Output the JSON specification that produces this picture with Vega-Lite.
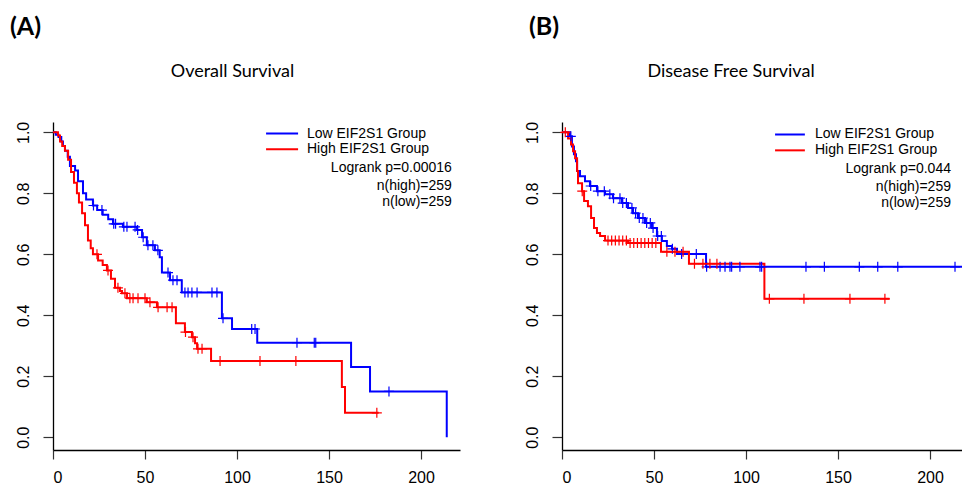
{
  "$schema": "https://vega.github.io/schema/vega-lite/v6.json",
  "background": "white",
  "padding": {"left": 10, "top": 15, "right": 0, "bottom": 0},
  "spacing": 64,
  "config": {
    "view": {"stroke": null},
    "font": "Liberation Sans",
    "axis": {"domainColor": "#000000", "domainWidth": 1.3, "tickColor": "#333333", "tickWidth": 1.2, "labelFont": "Liberation Sans", "labelFontSize": 16, "labelColor": "#000000", "grid": false, "title": null}
  },
  "datasets": {
    "one": [{}],
    "curves": [
      {"panel": "A", "group": "Low", "t": 0, "s": 1.0},
      {"panel": "A", "group": "Low", "t": 1.5, "s": 0.992},
      {"panel": "A", "group": "Low", "t": 3, "s": 0.985},
      {"panel": "A", "group": "Low", "t": 4.5, "s": 0.97},
      {"panel": "A", "group": "Low", "t": 5.4, "s": 0.955},
      {"panel": "A", "group": "Low", "t": 6.5, "s": 0.94},
      {"panel": "A", "group": "Low", "t": 8, "s": 0.92},
      {"panel": "A", "group": "Low", "t": 9.2, "s": 0.89},
      {"panel": "A", "group": "Low", "t": 12, "s": 0.875},
      {"panel": "A", "group": "Low", "t": 13.6, "s": 0.84},
      {"panel": "A", "group": "Low", "t": 16.3, "s": 0.8},
      {"panel": "A", "group": "Low", "t": 18, "s": 0.78},
      {"panel": "A", "group": "Low", "t": 21.7, "s": 0.76},
      {"panel": "A", "group": "Low", "t": 24, "s": 0.745},
      {"panel": "A", "group": "Low", "t": 27, "s": 0.73},
      {"panel": "A", "group": "Low", "t": 30, "s": 0.715},
      {"panel": "A", "group": "Low", "t": 32.6, "s": 0.7},
      {"panel": "A", "group": "Low", "t": 38, "s": 0.69},
      {"panel": "A", "group": "Low", "t": 45.7, "s": 0.68},
      {"panel": "A", "group": "Low", "t": 48.4, "s": 0.656},
      {"panel": "A", "group": "Low", "t": 51, "s": 0.63},
      {"panel": "A", "group": "Low", "t": 55.4, "s": 0.613},
      {"panel": "A", "group": "Low", "t": 58, "s": 0.59},
      {"panel": "A", "group": "Low", "t": 59.2, "s": 0.54},
      {"panel": "A", "group": "Low", "t": 63.6, "s": 0.515},
      {"panel": "A", "group": "Low", "t": 70, "s": 0.475},
      {"panel": "A", "group": "Low", "t": 91.8, "s": 0.39},
      {"panel": "A", "group": "Low", "t": 97.3, "s": 0.355},
      {"panel": "A", "group": "Low", "t": 111, "s": 0.31},
      {"panel": "A", "group": "Low", "t": 162, "s": 0.23},
      {"panel": "A", "group": "Low", "t": 172.3, "s": 0.15},
      {"panel": "A", "group": "Low", "t": 214, "s": 0.0},
      {"panel": "A", "group": "High", "t": 0, "s": 1.0},
      {"panel": "A", "group": "High", "t": 2.7, "s": 0.99},
      {"panel": "A", "group": "High", "t": 3.8, "s": 0.97},
      {"panel": "A", "group": "High", "t": 5, "s": 0.955},
      {"panel": "A", "group": "High", "t": 6.5, "s": 0.94},
      {"panel": "A", "group": "High", "t": 8.2, "s": 0.91},
      {"panel": "A", "group": "High", "t": 9.8, "s": 0.87},
      {"panel": "A", "group": "High", "t": 11.4, "s": 0.835},
      {"panel": "A", "group": "High", "t": 13, "s": 0.8},
      {"panel": "A", "group": "High", "t": 14.1, "s": 0.77},
      {"panel": "A", "group": "High", "t": 15.8, "s": 0.735},
      {"panel": "A", "group": "High", "t": 17.4, "s": 0.695},
      {"panel": "A", "group": "High", "t": 19, "s": 0.645},
      {"panel": "A", "group": "High", "t": 20.5, "s": 0.62},
      {"panel": "A", "group": "High", "t": 21.7, "s": 0.6},
      {"panel": "A", "group": "High", "t": 24.5, "s": 0.58},
      {"panel": "A", "group": "High", "t": 27, "s": 0.565},
      {"panel": "A", "group": "High", "t": 29.3, "s": 0.547},
      {"panel": "A", "group": "High", "t": 31.5, "s": 0.52},
      {"panel": "A", "group": "High", "t": 33.7, "s": 0.49},
      {"panel": "A", "group": "High", "t": 36.4, "s": 0.48},
      {"panel": "A", "group": "High", "t": 37.5, "s": 0.472},
      {"panel": "A", "group": "High", "t": 40.2, "s": 0.456},
      {"panel": "A", "group": "High", "t": 51, "s": 0.443},
      {"panel": "A", "group": "High", "t": 56.5, "s": 0.426},
      {"panel": "A", "group": "High", "t": 66.8, "s": 0.374},
      {"panel": "A", "group": "High", "t": 71.7, "s": 0.345},
      {"panel": "A", "group": "High", "t": 75.5, "s": 0.328},
      {"panel": "A", "group": "High", "t": 77.2, "s": 0.308},
      {"panel": "A", "group": "High", "t": 78.3, "s": 0.29},
      {"panel": "A", "group": "High", "t": 85.9, "s": 0.25},
      {"panel": "A", "group": "High", "t": 157, "s": 0.165},
      {"panel": "A", "group": "High", "t": 158.7, "s": 0.08},
      {"panel": "A", "group": "High", "t": 177, "s": 0.08},
      {"panel": "B", "group": "Low", "t": 0, "s": 1.0},
      {"panel": "B", "group": "Low", "t": 4.3, "s": 0.987},
      {"panel": "B", "group": "Low", "t": 5.4, "s": 0.954},
      {"panel": "B", "group": "Low", "t": 6.5, "s": 0.928},
      {"panel": "B", "group": "Low", "t": 7.6, "s": 0.905},
      {"panel": "B", "group": "Low", "t": 8.2, "s": 0.873},
      {"panel": "B", "group": "Low", "t": 9.8, "s": 0.856},
      {"panel": "B", "group": "Low", "t": 12.5, "s": 0.84},
      {"panel": "B", "group": "Low", "t": 15.2, "s": 0.824},
      {"panel": "B", "group": "Low", "t": 19, "s": 0.807},
      {"panel": "B", "group": "Low", "t": 23.4, "s": 0.797},
      {"panel": "B", "group": "Low", "t": 27.7, "s": 0.784},
      {"panel": "B", "group": "Low", "t": 32.6, "s": 0.768},
      {"panel": "B", "group": "Low", "t": 35.9, "s": 0.752},
      {"panel": "B", "group": "Low", "t": 38.6, "s": 0.735},
      {"panel": "B", "group": "Low", "t": 41.3, "s": 0.719},
      {"panel": "B", "group": "Low", "t": 45.1, "s": 0.703},
      {"panel": "B", "group": "Low", "t": 48.9, "s": 0.686},
      {"panel": "B", "group": "Low", "t": 51.6, "s": 0.66},
      {"panel": "B", "group": "Low", "t": 54.3, "s": 0.644},
      {"panel": "B", "group": "Low", "t": 57, "s": 0.627},
      {"panel": "B", "group": "Low", "t": 59.8, "s": 0.618},
      {"panel": "B", "group": "Low", "t": 62.5, "s": 0.601},
      {"panel": "B", "group": "Low", "t": 78.3, "s": 0.559},
      {"panel": "B", "group": "Low", "t": 218, "s": 0.559},
      {"panel": "B", "group": "High", "t": 0, "s": 1.0},
      {"panel": "B", "group": "High", "t": 3.3, "s": 0.98},
      {"panel": "B", "group": "High", "t": 4.9, "s": 0.96},
      {"panel": "B", "group": "High", "t": 6, "s": 0.938},
      {"panel": "B", "group": "High", "t": 7.1, "s": 0.915},
      {"panel": "B", "group": "High", "t": 8.2, "s": 0.873},
      {"panel": "B", "group": "High", "t": 8.7, "s": 0.833},
      {"panel": "B", "group": "High", "t": 10.9, "s": 0.807},
      {"panel": "B", "group": "High", "t": 12, "s": 0.775},
      {"panel": "B", "group": "High", "t": 14.1, "s": 0.758},
      {"panel": "B", "group": "High", "t": 15.8, "s": 0.719},
      {"panel": "B", "group": "High", "t": 17.4, "s": 0.686},
      {"panel": "B", "group": "High", "t": 19, "s": 0.67},
      {"panel": "B", "group": "High", "t": 20.7, "s": 0.66},
      {"panel": "B", "group": "High", "t": 23.4, "s": 0.645},
      {"panel": "B", "group": "High", "t": 35.9, "s": 0.637},
      {"panel": "B", "group": "High", "t": 53.8, "s": 0.608},
      {"panel": "B", "group": "High", "t": 69, "s": 0.569},
      {"panel": "B", "group": "High", "t": 110, "s": 0.454},
      {"panel": "B", "group": "High", "t": 178, "s": 0.454}
    ],
    "censors": [
      {"panel": "A", "group": "High", "t": 23.9, "s": 0.6},
      {"panel": "A", "group": "High", "t": 29.9, "s": 0.547},
      {"panel": "A", "group": "High", "t": 35.3, "s": 0.49},
      {"panel": "A", "group": "High", "t": 39.1, "s": 0.472},
      {"panel": "A", "group": "High", "t": 41.8, "s": 0.456},
      {"panel": "A", "group": "High", "t": 43.5, "s": 0.456},
      {"panel": "A", "group": "High", "t": 46.2, "s": 0.456},
      {"panel": "A", "group": "High", "t": 50, "s": 0.456},
      {"panel": "A", "group": "High", "t": 52.7, "s": 0.443},
      {"panel": "A", "group": "High", "t": 57.1, "s": 0.426},
      {"panel": "A", "group": "High", "t": 62, "s": 0.426},
      {"panel": "A", "group": "High", "t": 64.7, "s": 0.426},
      {"panel": "A", "group": "High", "t": 72, "s": 0.345},
      {"panel": "A", "group": "High", "t": 76.1, "s": 0.328},
      {"panel": "A", "group": "High", "t": 78.8, "s": 0.29},
      {"panel": "A", "group": "High", "t": 81, "s": 0.29},
      {"panel": "A", "group": "High", "t": 90.8, "s": 0.25},
      {"panel": "A", "group": "High", "t": 112.5, "s": 0.25},
      {"panel": "A", "group": "High", "t": 132, "s": 0.25},
      {"panel": "A", "group": "High", "t": 176, "s": 0.08},
      {"panel": "A", "group": "Low", "t": 22, "s": 0.76},
      {"panel": "A", "group": "Low", "t": 26.6, "s": 0.745},
      {"panel": "A", "group": "Low", "t": 33, "s": 0.7},
      {"panel": "A", "group": "Low", "t": 34, "s": 0.7},
      {"panel": "A", "group": "Low", "t": 38.5, "s": 0.69},
      {"panel": "A", "group": "Low", "t": 40.2, "s": 0.69},
      {"panel": "A", "group": "Low", "t": 44.6, "s": 0.69},
      {"panel": "A", "group": "Low", "t": 46, "s": 0.68},
      {"panel": "A", "group": "Low", "t": 49, "s": 0.656},
      {"panel": "A", "group": "Low", "t": 51.6, "s": 0.63},
      {"panel": "A", "group": "Low", "t": 54.3, "s": 0.63},
      {"panel": "A", "group": "Low", "t": 57, "s": 0.613},
      {"panel": "A", "group": "Low", "t": 62.5, "s": 0.54},
      {"panel": "A", "group": "Low", "t": 65.2, "s": 0.515},
      {"panel": "A", "group": "Low", "t": 67.4, "s": 0.515},
      {"panel": "A", "group": "Low", "t": 71.7, "s": 0.475},
      {"panel": "A", "group": "Low", "t": 73.4, "s": 0.475},
      {"panel": "A", "group": "Low", "t": 75.5, "s": 0.475},
      {"panel": "A", "group": "Low", "t": 78.3, "s": 0.475},
      {"panel": "A", "group": "Low", "t": 86.4, "s": 0.475},
      {"panel": "A", "group": "Low", "t": 89.1, "s": 0.475},
      {"panel": "A", "group": "Low", "t": 92.4, "s": 0.39},
      {"panel": "A", "group": "Low", "t": 108, "s": 0.355},
      {"panel": "A", "group": "Low", "t": 109.8, "s": 0.355},
      {"panel": "A", "group": "Low", "t": 132.6, "s": 0.31},
      {"panel": "A", "group": "Low", "t": 142, "s": 0.31},
      {"panel": "A", "group": "Low", "t": 142.8, "s": 0.31},
      {"panel": "A", "group": "Low", "t": 182.6, "s": 0.15},
      {"panel": "B", "group": "Low", "t": 4.8, "s": 0.987},
      {"panel": "B", "group": "Low", "t": 15.6, "s": 0.824},
      {"panel": "B", "group": "Low", "t": 19.5, "s": 0.807},
      {"panel": "B", "group": "Low", "t": 23, "s": 0.807},
      {"panel": "B", "group": "Low", "t": 26, "s": 0.797},
      {"panel": "B", "group": "Low", "t": 28, "s": 0.784},
      {"panel": "B", "group": "Low", "t": 31.5, "s": 0.784},
      {"panel": "B", "group": "Low", "t": 33, "s": 0.768},
      {"panel": "B", "group": "Low", "t": 35, "s": 0.768},
      {"panel": "B", "group": "Low", "t": 38, "s": 0.752},
      {"panel": "B", "group": "Low", "t": 40, "s": 0.735},
      {"panel": "B", "group": "Low", "t": 42, "s": 0.719},
      {"panel": "B", "group": "Low", "t": 44, "s": 0.719},
      {"panel": "B", "group": "Low", "t": 46, "s": 0.703},
      {"panel": "B", "group": "Low", "t": 48, "s": 0.703},
      {"panel": "B", "group": "Low", "t": 49.5, "s": 0.686},
      {"panel": "B", "group": "Low", "t": 52, "s": 0.66},
      {"panel": "B", "group": "Low", "t": 54, "s": 0.66},
      {"panel": "B", "group": "Low", "t": 60, "s": 0.618},
      {"panel": "B", "group": "Low", "t": 65, "s": 0.601},
      {"panel": "B", "group": "Low", "t": 73, "s": 0.601},
      {"panel": "B", "group": "Low", "t": 78.6, "s": 0.559},
      {"panel": "B", "group": "Low", "t": 85.9, "s": 0.559},
      {"panel": "B", "group": "Low", "t": 88.6, "s": 0.559},
      {"panel": "B", "group": "Low", "t": 91.3, "s": 0.559},
      {"panel": "B", "group": "Low", "t": 92.2, "s": 0.559},
      {"panel": "B", "group": "Low", "t": 96.7, "s": 0.559},
      {"panel": "B", "group": "Low", "t": 107.6, "s": 0.559},
      {"panel": "B", "group": "Low", "t": 108.5, "s": 0.559},
      {"panel": "B", "group": "Low", "t": 132.6, "s": 0.559},
      {"panel": "B", "group": "Low", "t": 142.6, "s": 0.559},
      {"panel": "B", "group": "Low", "t": 161.6, "s": 0.559},
      {"panel": "B", "group": "Low", "t": 171.6, "s": 0.559},
      {"panel": "B", "group": "Low", "t": 182.5, "s": 0.559},
      {"panel": "B", "group": "Low", "t": 213.6, "s": 0.559},
      {"panel": "B", "group": "High", "t": 1.8, "s": 1.0},
      {"panel": "B", "group": "High", "t": 11, "s": 0.807},
      {"panel": "B", "group": "High", "t": 25, "s": 0.645},
      {"panel": "B", "group": "High", "t": 27, "s": 0.645},
      {"panel": "B", "group": "High", "t": 29, "s": 0.645},
      {"panel": "B", "group": "High", "t": 31, "s": 0.645},
      {"panel": "B", "group": "High", "t": 33, "s": 0.645},
      {"panel": "B", "group": "High", "t": 35, "s": 0.645},
      {"panel": "B", "group": "High", "t": 37, "s": 0.637},
      {"panel": "B", "group": "High", "t": 39, "s": 0.637},
      {"panel": "B", "group": "High", "t": 41, "s": 0.637},
      {"panel": "B", "group": "High", "t": 43, "s": 0.637},
      {"panel": "B", "group": "High", "t": 45, "s": 0.637},
      {"panel": "B", "group": "High", "t": 47, "s": 0.637},
      {"panel": "B", "group": "High", "t": 49, "s": 0.637},
      {"panel": "B", "group": "High", "t": 51, "s": 0.637},
      {"panel": "B", "group": "High", "t": 57, "s": 0.608},
      {"panel": "B", "group": "High", "t": 61.4, "s": 0.608},
      {"panel": "B", "group": "High", "t": 65.8, "s": 0.608},
      {"panel": "B", "group": "High", "t": 72, "s": 0.569},
      {"panel": "B", "group": "High", "t": 76.6, "s": 0.569},
      {"panel": "B", "group": "High", "t": 80.4, "s": 0.569},
      {"panel": "B", "group": "High", "t": 84.2, "s": 0.569},
      {"panel": "B", "group": "High", "t": 112.7, "s": 0.454},
      {"panel": "B", "group": "High", "t": 131.5, "s": 0.454},
      {"panel": "B", "group": "High", "t": 156.5, "s": 0.454},
      {"panel": "B", "group": "High", "t": 175.5, "s": 0.454}
    ]
  },
  "hconcat": [
    {
      "title": {"text": "(A)", "anchor": "start", "font": "Lato", "fontSize": 25, "fontWeight": "bold", "color": "#000000", "offset": 23, "dx": -5},
      "vconcat": [
        {
          "width": 407,
          "height": 328,
          "title": {"text": "Overall Survival", "font": "Lato", "fontSize": 18, "fontWeight": "normal", "color": "#000000", "offset": 40, "dx": -24},
          "layer": [
            {
              "data": {"name": "curves"},
              "transform": [{"filter": "datum.panel == 'A'"}],
              "mark": {"type": "line", "interpolate": "step-after", "strokeWidth": 2},
              "encoding": {
                "x": {"field": "t", "type": "quantitative", "scale": {"domain": [0, 221.2], "nice": false, "zero": false}, "axis": {"values": [0, 50, 100, 150, 200], "tickSize": 9, "labelPadding": 10}},
                "y": {"field": "s", "type": "quantitative", "scale": {"domain": [-0.042, 1.034], "nice": false, "zero": false}, "axis": {"values": [0, 0.2, 0.4, 0.6, 0.8, 1.0], "format": ".1f", "labelAngle": -90, "labelAlign": "center", "labelBaseline": "bottom", "tickSize": 10, "labelPadding": 12}},
                "color": {"field": "group", "type": "nominal", "scale": {"domain": ["Low", "High"], "range": ["#0000ff", "#ff0000"]}, "legend": null}
              }
            },
            {
              "data": {"name": "censors"},
              "transform": [{"filter": "datum.panel == 'A'"}],
              "mark": {"type": "point", "shape": "M0,-1V1M-1,0H1", "filled": false, "size": 100, "strokeWidth": 1.2, "opacity": 1},
              "encoding": {
                "x": {"field": "t", "type": "quantitative"},
                "y": {"field": "s", "type": "quantitative"},
                "color": {"field": "group", "type": "nominal", "legend": null}
              }
            },
            {
              "data": {"name": "one"},
              "mark": {"type": "rule", "strokeWidth": 2, "color": "#0000ff"},
              "encoding": {"x": {"datum": 115.8, "type": "quantitative"}, "x2": {"datum": 133.2}, "y": {"datum": 0.996, "type": "quantitative"}}
            },
            {
              "data": {"name": "one"},
              "mark": {"type": "rule", "strokeWidth": 2, "color": "#ff0000"},
              "encoding": {"x": {"datum": 115.8, "type": "quantitative"}, "x2": {"datum": 133.2}, "y": {"datum": 0.945, "type": "quantitative"}}
            },
            {
              "data": {"name": "one"},
              "mark": {"type": "text", "align": "left", "baseline": "middle", "fontSize": 14, "font": "Liberation Sans", "color": "#000000"},
              "encoding": {"x": {"datum": 138, "type": "quantitative"}, "y": {"datum": 0.996, "type": "quantitative"}, "text": {"value": "Low EIF2S1 Group"}}
            },
            {
              "data": {"name": "one"},
              "mark": {"type": "text", "align": "left", "baseline": "middle", "fontSize": 14, "font": "Liberation Sans", "color": "#000000"},
              "encoding": {"x": {"datum": 138, "type": "quantitative"}, "y": {"datum": 0.945, "type": "quantitative"}, "text": {"value": "High EIF2S1 Group"}}
            },
            {
              "data": {"name": "one"},
              "mark": {"type": "text", "align": "right", "baseline": "middle", "fontSize": 14, "font": "Liberation Sans", "color": "#000000"},
              "encoding": {"x": {"datum": 216.8, "type": "quantitative"}, "y": {"datum": 0.882, "type": "quantitative"}, "text": {"value": "Logrank p=0.00016"}}
            },
            {
              "data": {"name": "one"},
              "mark": {"type": "text", "align": "right", "baseline": "middle", "fontSize": 14, "font": "Liberation Sans", "color": "#000000"},
              "encoding": {"x": {"datum": 216.8, "type": "quantitative"}, "y": {"datum": 0.823, "type": "quantitative"}, "text": {"value": "n(high)=259"}}
            },
            {
              "data": {"name": "one"},
              "mark": {"type": "text", "align": "right", "baseline": "middle", "fontSize": 14, "font": "Liberation Sans", "color": "#000000"},
              "encoding": {"x": {"datum": 216.8, "type": "quantitative"}, "y": {"datum": 0.77, "type": "quantitative"}, "text": {"value": "n(low)=259"}}
            }
          ]
        }
      ]
    },
    {
      "title": {"text": "(B)", "anchor": "start", "font": "Lato", "fontSize": 25, "fontWeight": "bold", "color": "#000000", "offset": 23, "dx": 5},
      "vconcat": [
        {
          "width": 400,
          "height": 328,
          "title": {"text": "Disease Free Survival", "font": "Lato", "fontSize": 18, "fontWeight": "normal", "color": "#000000", "offset": 40, "dx": -31},
          "layer": [
            {
              "data": {"name": "curves"},
              "transform": [{"filter": "datum.panel == 'B'"}],
              "mark": {"type": "line", "interpolate": "step-after", "strokeWidth": 2},
              "encoding": {
                "x": {"field": "t", "type": "quantitative", "scale": {"domain": [0, 217.4], "nice": false, "zero": false}, "axis": {"values": [0, 50, 100, 150, 200], "tickSize": 9, "labelPadding": 10}},
                "y": {"field": "s", "type": "quantitative", "scale": {"domain": [-0.042, 1.034], "nice": false, "zero": false}, "axis": {"values": [0, 0.2, 0.4, 0.6, 0.8, 1.0], "format": ".1f", "labelAngle": -90, "labelAlign": "center", "labelBaseline": "bottom", "tickSize": 10, "labelPadding": 12}},
                "color": {"field": "group", "type": "nominal", "scale": {"domain": ["Low", "High"], "range": ["#0000ff", "#ff0000"]}, "legend": null}
              }
            },
            {
              "data": {"name": "censors"},
              "transform": [{"filter": "datum.panel == 'B'"}],
              "mark": {"type": "point", "shape": "M0,-1V1M-1,0H1", "filled": false, "size": 100, "strokeWidth": 1.2, "opacity": 1},
              "encoding": {
                "x": {"field": "t", "type": "quantitative"},
                "y": {"field": "s", "type": "quantitative"},
                "color": {"field": "group", "type": "nominal", "legend": null}
              }
            },
            {
              "data": {"name": "one"},
              "mark": {"type": "rule", "strokeWidth": 2, "color": "#0000ff"},
              "encoding": {"x": {"datum": 115.8, "type": "quantitative"}, "x2": {"datum": 132}, "y": {"datum": 0.993, "type": "quantitative"}}
            },
            {
              "data": {"name": "one"},
              "mark": {"type": "rule", "strokeWidth": 2, "color": "#ff0000"},
              "encoding": {"x": {"datum": 115.8, "type": "quantitative"}, "x2": {"datum": 132}, "y": {"datum": 0.941, "type": "quantitative"}}
            },
            {
              "data": {"name": "one"},
              "mark": {"type": "text", "align": "left", "baseline": "middle", "fontSize": 14, "font": "Liberation Sans", "color": "#000000"},
              "encoding": {"x": {"datum": 137.5, "type": "quantitative"}, "y": {"datum": 0.993, "type": "quantitative"}, "text": {"value": "Low EIF2S1 Group"}}
            },
            {
              "data": {"name": "one"},
              "mark": {"type": "text", "align": "left", "baseline": "middle", "fontSize": 14, "font": "Liberation Sans", "color": "#000000"},
              "encoding": {"x": {"datum": 137.5, "type": "quantitative"}, "y": {"datum": 0.941, "type": "quantitative"}, "text": {"value": "High EIF2S1 Group"}}
            },
            {
              "data": {"name": "one"},
              "mark": {"type": "text", "align": "right", "baseline": "middle", "fontSize": 14, "font": "Liberation Sans", "color": "#000000"},
              "encoding": {"x": {"datum": 211.4, "type": "quantitative"}, "y": {"datum": 0.879, "type": "quantitative"}, "text": {"value": "Logrank p=0.044"}}
            },
            {
              "data": {"name": "one"},
              "mark": {"type": "text", "align": "right", "baseline": "middle", "fontSize": 14, "font": "Liberation Sans", "color": "#000000"},
              "encoding": {"x": {"datum": 211.4, "type": "quantitative"}, "y": {"datum": 0.82, "type": "quantitative"}, "text": {"value": "n(high)=259"}}
            },
            {
              "data": {"name": "one"},
              "mark": {"type": "text", "align": "right", "baseline": "middle", "fontSize": 14, "font": "Liberation Sans", "color": "#000000"},
              "encoding": {"x": {"datum": 211.4, "type": "quantitative"}, "y": {"datum": 0.768, "type": "quantitative"}, "text": {"value": "n(low)=259"}}
            }
          ]
        }
      ]
    }
  ]
}
